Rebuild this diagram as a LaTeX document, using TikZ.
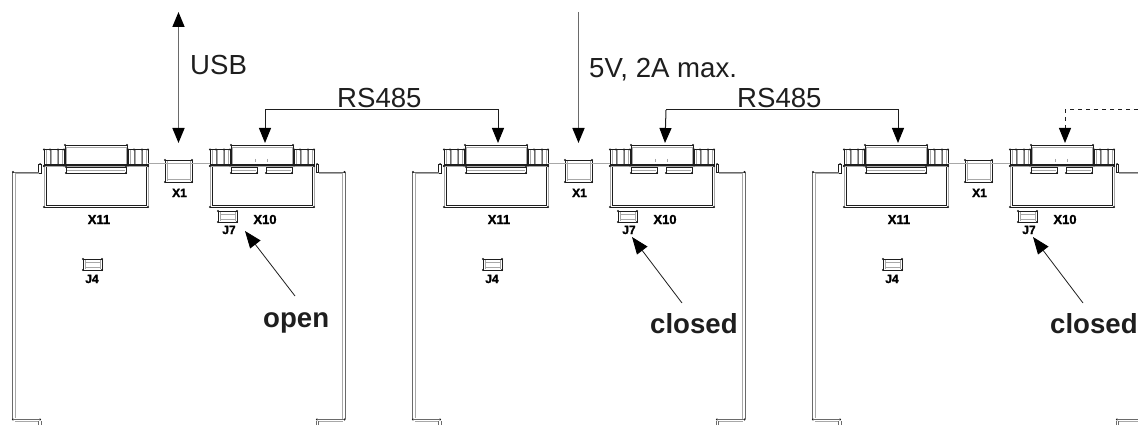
\documentclass[tikz,border=0pt]{standalone}
\usepackage{fontspec}
\setmainfont{Liberation Sans}
\newfontfamily\partfont{Liberation Sans}[BoldFeatures={FakeBold=1.6}]
\usetikzlibrary{arrows.meta}
\definecolor{ink}{HTML}{1E1E1E}
\definecolor{wire}{HTML}{A8A8A8}
\definecolor{stem}{HTML}{6A6A6A}
\tikzset{
  darkline/.style={draw=ink,line width=0.9pt},
  lightline/.style={draw=wire,line width=0.9pt},
  thinwire/.style={draw=wire,line width=0.6pt},
  biglabel/.style={inner sep=0pt,anchor=base west,text=ink,font=\fontsize{27.6}{30}\selectfont},
  boldlabel/.style={inner sep=0pt,anchor=base west,text=ink,font=\fontsize{27.6}{30}\selectfont\bfseries},
  tinylabel/.style={inner sep=0pt,anchor=base,text=black,font=\partfont\fontsize{13}{14}\selectfont\bfseries},
  xsmall/.style={inner sep=0pt,anchor=base,text=black,font=\partfont\fontsize{12}{13}\selectfont\bfseries},
  bus/.style={draw=ink,line width=1pt,-{Triangle[length=15pt,width=12pt,color=black]}},
  busdash/.style={draw=ink,line width=1pt,dash pattern=on 4pt off 4pt,-{Triangle[length=15pt,width=12pt,color=black]}},
  feed/.style={draw=stem,line width=1.6pt,-{Triangle[length=15pt,width=12pt,color=black]}},
  feedboth/.style={draw=stem,line width=1.6pt,{Triangle[length=15pt,width=12pt,color=black]}-{Triangle[length=15pt,width=12pt,color=black]}},
  pointer/.style={draw=ink,line width=0.8pt,-{Triangle[length=17pt,width=13pt,color=black]}},
}
% corner dots of a box
\newcommand{\cornerdots}[4]{%
  \fill[ink] (#1,#2) circle (1.1pt) (#3,#2) circle (1.1pt) (#1,#4) circle (1.1pt) (#3,#4) circle (1.1pt);}
% rectangle with a second, grey line inside
\newcommand{\twobox}[4]{%
  \draw[darkline,line width=0.8pt] (#1,#2) rectangle (#3,#4);
  \draw[thinwire] ({#1+2},{#2+3}) -- ({#3-2},{#2+3}) ({#1+2},{#4-3}) -- ({#3-2},{#4-3}) ({#1+2},{#2+1}) -- ({#1+2},{#4-1}) ({#3-2},{#2+1}) -- ({#3-2},{#4-1});
  \cornerdots{#1}{#2}{#3}{#4}}
% a board connector: left edge #1
\newcommand{\plugbody}[1]{%
  \draw[lightline] ({#1},166) -- ({#1},207);
  \draw[darkline] ({#1+2},166) -- ({#1+2},205.5) -- ({#1+102},205.5) -- ({#1+102},166);
  \draw[lightline] ({#1},207) -- ({#1+104},207) -- ({#1+104},166);
  \draw[darkline] ({#1},207.2) -- ({#1+104},207.2);
  \cornerdots{#1}{207}{#1+104}{207}
  % side blocks
  \foreach \sx in {#1,#1+84}{
    \draw[draw=ink,line width=0.7pt] ({\sx},149) -- ({\sx+20},149) ({\sx},149) -- ({\sx},167) ({\sx+20},149) -- ({\sx+20},167);
    \draw[thinwire] ({\sx+2},150.5) -- ({\sx+2},166) ({\sx+7},150.5) -- ({\sx+7},166) ({\sx+13},150.5) -- ({\sx+13},166) ({\sx+18},150.5) -- ({\sx+18},166);
    \draw[draw=stem,line width=0.5pt] ({\sx+6},150) -- ({\sx+6},166) ({\sx+14},150) -- ({\sx+14},166);
    \cornerdots{\sx}{149.5}{\sx+20}{149.5}
    \cornerdots{\sx+6}{149.5}{\sx+14}{149.5}
    \cornerdots{\sx}{166}{\sx+20}{166}
  }
  % upper block
  \draw[lightline,fill=white] ({#1+22},147) rectangle ({#1+82},165);
  \draw[darkline] ({#1+21},145) -- ({#1+83},145) ({#1+21},145) -- ({#1+21},165) ({#1+83},145) -- ({#1+83},165);
  \cornerdots{#1+21}{145}{#1+83}{145}
  % band
  \draw[draw=ink,line width=1.2pt] ({#1},165) -- ({#1+104},165);
  \draw[draw=wire,line width=1pt] ({#1},167) -- ({#1+104},167);
  \cornerdots{#1+20}{165.5}{#1+84}{165.5}
  \cornerdots{#1}{166}{#1+104}{166}
}
\newcommand{\boardunit}[1]{%
  \begin{scope}[shift={(#1,0)}]
    % wires between connectors
    \draw[thinwire] (148,163) -- (165,163) (192,163) -- (210,163);
    % connector X11
    \plugbody{44}
    \draw[darkline,line width=0.7pt] (66,167) rectangle (126,173);
    \draw[thinwire] (67,170) -- (125,170);
    \cornerdots{66}{167}{126}{173}
    % connector X10
    \plugbody{210}
    \draw[darkline,line width=0.7pt] (231,167) rectangle (257,173);
    \draw[darkline,line width=0.7pt] (266,167) rectangle (292,173);
    \draw[thinwire] (232,170) -- (256,170) (267,170) -- (291,170);
    \cornerdots{231}{173}{257}{173}
    \cornerdots{266}{173}{292}{173}
    \draw[wire,line width=0.6pt] (255,159) -- (255,162) (267.5,159) -- (267.5,162);
    % connector X1
    \twobox{165}{160}{192}{182}
    \draw[thinwire] (148,163) -- (210,163);
    % jumpers
    \twobox{218}{211}{237}{222}
    \twobox{83}{259}{102}{270}
    % left side wall
    \draw[darkline,line width=0.7pt] (38.5,164) rectangle (41.5,173);
    \fill[ink] (40,164) circle (1pt);
    \draw[lightline] (15,173.5) -- (39,173.5);
    \draw[stem,line width=0.7pt] (13,172) -- (38.5,172);
    \draw[stem,line width=0.9pt] (12.7,172) -- (12.7,419);
    \draw[lightline] (15,173) -- (15,418);
    \fill[ink] (13,172) circle (1.1pt) (13,419.5) circle (1.1pt) (40,419.5) circle (1.1pt);
    \draw[stem,line width=0.7pt] (13,419) -- (40,419);
    \draw[lightline] (15,421) -- (39,421);
    \draw[stem,line width=0.7pt] (38.5,421) -- (38.5,425) (41,421) -- (41,425);
    % right side wall
    \draw[darkline,line width=0.7pt] (316,164) rectangle (318.7,172.5);
    \fill[ink] (317,164) circle (1pt);
    \draw[lightline] (319,173.5) -- (343,173.5);
    \draw[stem,line width=0.7pt] (319,172) -- (344,172);
    \draw[lightline] (342.8,173) -- (342.8,419);
    \draw[stem,line width=0.9pt] (345,172) -- (345,419);
    \fill[ink] (344.5,172) circle (1.1pt) (344.5,419.5) circle (1.1pt) (317,419.5) circle (1.1pt);
    \draw[stem,line width=0.7pt] (317,419) -- (344,419);
    \draw[lightline] (318,421) -- (343,421);
    \draw[stem,line width=0.7pt] (316,421) -- (316,425) (318.5,421) -- (318.5,425);
    % labels
    \node[tinylabel] (x11) at (99,224) {X11};
    \node[tinylabel] (x10) at (265,224) {X10};
    \node[xsmall] (x1) at (179.5,197) {X1};
    \node[xsmall] (j7) at (229,234) {J7};
    \node[xsmall] (j4) at (92,283) {J4};
    % ports
    \coordinate (portxi) at (98,143);
    \coordinate (portx) at (265,143);
    \coordinate (portone) at (178.5,143);
  \end{scope}
}
\begin{document}
\begin{tikzpicture}[x=1pt,y=-1pt]
  \useasboundingbox (0,0) rectangle (1138,425);
  \clip (0,0) rectangle (1138,425);
  \begin{scope}[name prefix=a-]\boardunit{0}\end{scope}
  \begin{scope}[name prefix=b-]\boardunit{400}\end{scope}
  \begin{scope}[name prefix=c-]\boardunit{800}\end{scope}

  \coordinate (usbtop) at (178.5,12);
  \coordinate (powertop) at (578.5,12);
  \coordinate (busa) at (265,110);
  \coordinate (busb) at (666,110);
  \coordinate (busc) at (1138,110);
  \coordinate (taila) at (295,296);
  \coordinate (tailb) at (682,303);
  \coordinate (tailc) at (1083,303);
  \coordinate (tipa) at (245,231);
  \coordinate (tipb) at (632,237);
  \coordinate (tipc) at (1033,237);

  \draw[feedboth] (usbtop) -- (a-portone);
  \draw[feed] (powertop) -- (b-portone);
  \draw[bus] (busa) -- (a-portx);
  \draw[bus] (busa) -| (b-portxi);
  \draw[bus] (busb) -- (b-portx);
  \draw[bus] (busb) -| (c-portxi);
  \draw[busdash] (busc) -| (c-portx);
  \draw[pointer] (taila) -- (tipa);
  \draw[pointer] (tailb) -- (tipb);
  \draw[pointer] (tailc) -- (tipc);

  \node[biglabel] (usb) at (190,75) {USB};
  \node[biglabel] (power) at (589,78) {5V, 2A max.};
  \node[biglabel] (rsa) at (337,108) {RS485};
  \node[biglabel] (rsb) at (737,108) {RS485};
  \node[boldlabel] (open) at (263,327) {open};
  \node[boldlabel] (closeda) at (650,333) {closed};
  \node[boldlabel] (closedb) at (1050,333) {closed};
\end{tikzpicture}
\end{document}
